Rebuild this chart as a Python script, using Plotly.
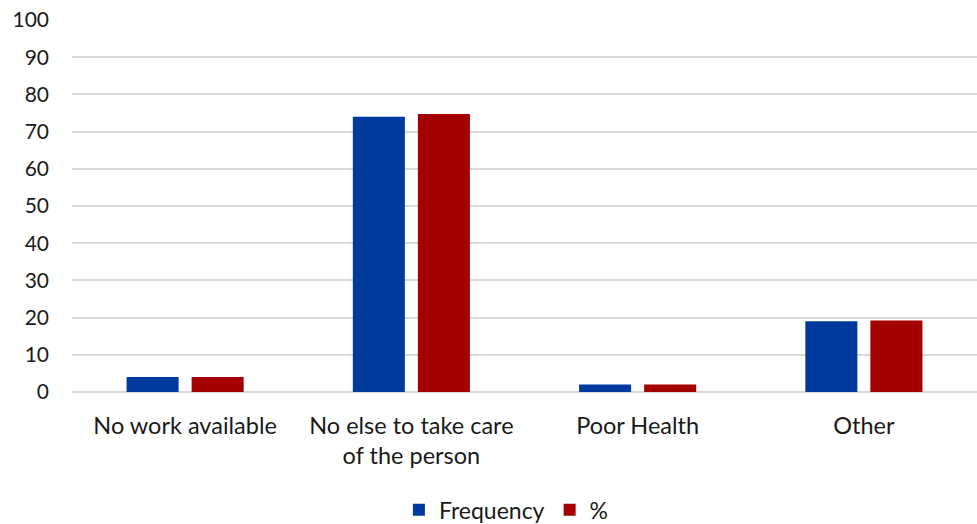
import plotly.graph_objects as go

# Reasons for not working, frequency and share of respondents
categories = ["No work available", "No else to take care<br>of the person", "Poor Health", "Other"]
frequency = [4, 74, 2, 19]
percent = [4.0, 74.7, 2.0, 19.2]
y_ticks = list(range(0, 101, 10))

font_family = "Lato, Open Sans, sans-serif"

fig = go.Figure()
fig.add_trace(go.Bar(x=categories, y=frequency, name="Frequency",
                     marker=dict(color="#003A9E", line=dict(width=0))))
fig.add_trace(go.Bar(x=categories, y=percent, name="%",
                     marker=dict(color="#A50000", line=dict(width=0))))

fig.update_layout(
    width=977, height=524,
    margin=dict(l=72, r=0, t=20, b=132, autoexpand=False),
    paper_bgcolor="white", plot_bgcolor="white",
    barmode="group", bargap=0.425, bargroupgap=0.2,
    font=dict(family=font_family, size=21, color="#1a1a1a"),
    showlegend=True,
    legend=dict(orientation="h", x=0.48, xanchor="center", y=-0.317, yanchor="middle",
                font=dict(size=23), itemsizing="constant", traceorder="normal",
                itemwidth=30),
)
fig.update_xaxes(showgrid=False, showline=False, ticks="", tickfont=dict(size=23.5),
                 automargin=False, ticklabelstandoff=17)
fig.update_yaxes(range=[0, 100], tickvals=y_ticks, showgrid=True, gridcolor="#D9D9D9",
                 gridwidth=1.5, zeroline=True, zerolinecolor="#D9D9D9", zerolinewidth=1.5,
                 ticks="", ticklabelstandoff=22, tickfont=dict(size=21), automargin=False)

fig.write_html("out.html")
